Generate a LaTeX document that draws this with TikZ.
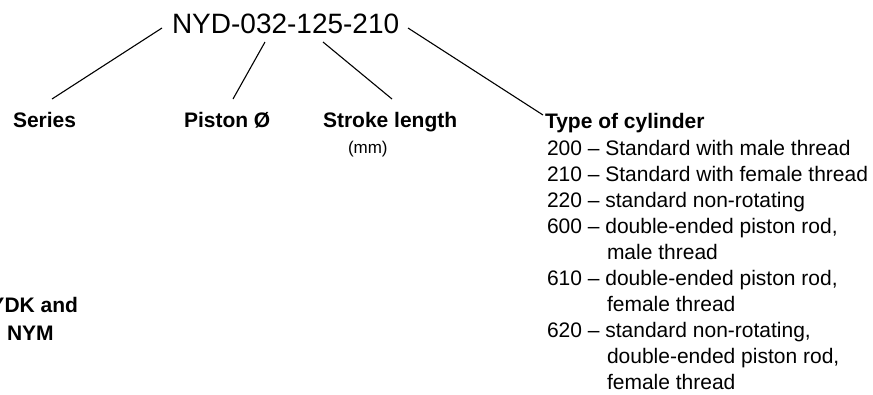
\documentclass[tikz,border=0pt]{standalone}
\usepackage{fontspec}
\setmainfont{Liberation Sans}
\usetikzlibrary{calc}
\tikzset{
  every node/.style={inner sep=0pt, outer sep=0pt, anchor=base west},
  codetext/.style={font=\fontsize{28}{34}\selectfont},
  headtext/.style={font=\fontsize{21}{26}\selectfont\bfseries},
  itemtext/.style={font=\fontsize{21}{26}\selectfont},
  smalltext/.style={font=\fontsize{17}{20}\selectfont},
  link/.style={line width=1.1pt, black}
}
\begin{document}
\begin{tikzpicture}[x=1pt,y=-1pt]
\useasboundingbox (0,0) rectangle (873,394);
\clip (0,0) rectangle (873,394);

\node[codetext] (code) at (172,33) {NYD-032-125-210};

\node[headtext] (series) at (13,127) {Series};
\node[headtext] (piston) at (184,127) {Piston Ø};
\node[headtext] (stroke) at (323,127) {Stroke length};
\node[smalltext] (mm) at (348,153) {(mm)};
\node[headtext] (type) at (545,128) {Type of cylinder};

\node[headtext, anchor=base east] (nydk) at (78,312) {YDK and};
\node[headtext] (nym) at (7,340) {NYM};

\node[itemtext] (i200) at (547,155) {200 – Standard with male thread};
\node[itemtext] (i210) at (547,181) {210 – Standard with female thread};
\node[itemtext] (i220) at (547,207) {220 – standard non-rotating};
\node[itemtext] (i600) at (547,233) {600 – double-ended piston rod,};
\node[itemtext] (i600b) at (607,259) {male thread};
\node[itemtext] (i610) at (547,285) {610 – double-ended piston rod,};
\node[itemtext] (i610b) at (607,311) {female thread};
\node[itemtext] (i620) at (547,337) {620 – standard non-rotating,};
\node[itemtext] (i620b) at (607,363) {double-ended piston rod,};
\node[itemtext] (i620c) at (607,389) {female thread};

\draw[link] ($(code.base west)+(-10,-5)$) -- ($(series.base west)+(39,-28)$);
\draw[link] ($(code.base west)+(93,9)$) -- ($(piston.base west)+(49,-28)$);
\draw[link] ($(code.base west)+(151,9)$) -- ($(stroke.base west)+(69,-28)$);
\draw[link] ($(code.base west)+(236,-5)$) -- ($(type.base west)+(-2,-13)$);
\end{tikzpicture}
\end{document}
